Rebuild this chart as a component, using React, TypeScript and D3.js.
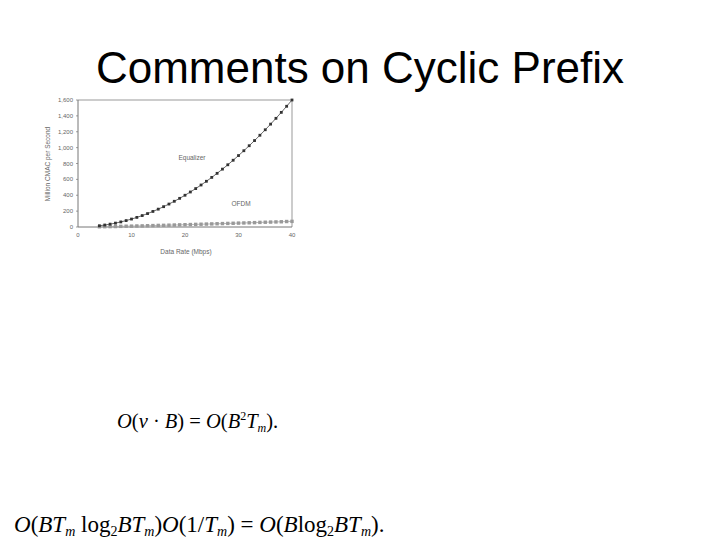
import React from "react";
import * as d3 from "d3";

const rates = [4,5,6,7,8,9,10,11,12,13,14,15,16,17,18,19,20,21,22,23,24,25,26,27,28,29,30,31,32,33,34,35,36,37,38,39,40];
const equalizer = [16,25,36,49,64,81,100,121,144,169,196,225,256,289,324,361,400,441,484,529,576,625,676,729,784,841,900,961,1024,1089,1156,1225,1296,1369,1444,1521,1600];
const ofdm = [3,4,5,6,8,10,11,13,14,16,18,20,21,23,25,27,29,31,33,35,37,39,41,43,45,47,49,51,53,55,58,60,62,64,66,69,71];
const yTicks = [0,200,400,600,800,1000,1200,1400,1600];
const xTicks = [0,10,20,30,40];

export default function App() {
  const x = d3.scaleLinear().domain([0, 40]).range([78, 292]);
  const y = d3.scaleLinear().domain([0, 1600]).range([227, 100]);
  const fmt = d3.format(",");
  const eqPts = rates.map((r, i) => [x(r), y(equalizer[i])] as [number, number]);
  const ofPts = rates.map((r, i) => [x(r), y(ofdm[i])] as [number, number]);
  const line = d3.line();
  const small = { fontFamily: "Liberation Sans, Arial, sans-serif", fontSize: 6, fill: "#666" };
  const serif = "Liberation Serif, Times New Roman, serif";
  return (
    <svg width={720} height={540} style={{ position: "absolute", left: 0, top: 0, background: "#fff" }}>
      <rect x={0} y={0} width={720} height={540} fill="#fff" />
      <text x={360} y={83} textAnchor="middle" fontFamily="Liberation Sans, Arial, sans-serif" fontSize={44} fill="#000">Comments on Cyclic Prefix</text>

      {/* plot frame */}
      <path d={`M${x(0)},${y(1600)}H${x(40)}V${y(0)}`} fill="none" stroke="#999" strokeWidth={1} />
      <line x1={x(0)} x2={x(0)} y1={y(0)} y2={y(1600)} stroke="#777" strokeWidth={1} />
      <line x1={x(0)} x2={x(40)} y1={y(0)} y2={y(0)} stroke="#777" strokeWidth={1} />
      {yTicks.map(t => (
        <g key={"y" + t}>
          <line x1={x(0) - 2} x2={x(0)} y1={y(t)} y2={y(t)} stroke="#777" strokeWidth={0.7} />
          <text x={73} y={y(t) + 2} textAnchor="end" {...small}>{fmt(t)}</text>
        </g>
      ))}
      {xTicks.map(t => (
        <text key={"x" + t} x={x(t)} y={237} textAnchor="middle" {...small}>{t}</text>
      ))}
      <text x={186} y={254} textAnchor="middle" {...small} fontSize={6.5}>Data Rate (Mbps)</text>
      <text transform={`translate(50,164) rotate(-90)`} textAnchor="middle" {...small} fontSize={6.5}>Million CMAC per Second</text>

      {/* series */}
      <path d={line(ofPts) || ""} fill="none" stroke="#aaa" strokeWidth={0.8} />
      {ofPts.map((p, i) => (
        <rect key={"o" + i} x={p[0] - 1.7} y={p[1] - 1.7} width={3.4} height={3.4} fill="#999" />
      ))}
      <path d={line(eqPts) || ""} fill="none" stroke="#444" strokeWidth={0.8} />
      {eqPts.map((p, i) => (
        <rect key={"e" + i} x={p[0] - 1.4} y={p[1] - 1.4} width={2.8} height={2.8} fill="#333" />
      ))}
      <text x={192} y={160} textAnchor="middle" {...small} fontSize={6.5}>Equalizer</text>
      <text x={241} y={206} textAnchor="middle" {...small} fontSize={6.5}>OFDM</text>

      {/* formula 1 */}
      <text x={117} y={428} fontFamily={serif} fontSize={20.5} fontStyle="italic" fill="#000">
        <tspan>O</tspan><tspan fontStyle="normal">(</tspan><tspan>v</tspan><tspan fontStyle="normal"> · </tspan><tspan>B</tspan><tspan fontStyle="normal">) = </tspan><tspan>O</tspan><tspan fontStyle="normal">(</tspan><tspan>B</tspan><tspan fontSize={12} dy={-8} fontStyle="normal">2</tspan><tspan dy={8}>T</tspan><tspan fontSize={12} dy={4}>m</tspan><tspan dy={-4} fontStyle="normal">).</tspan>
      </text>

      {/* formula 2 */}
      <text x={14} y={532} fontFamily={serif} fontSize={23} fontStyle="italic" fill="#000">
        <tspan>O</tspan><tspan fontStyle="normal">(</tspan><tspan>BT</tspan><tspan fontSize={14} dy={4}>m</tspan><tspan dy={-4} fontStyle="normal"> log</tspan><tspan fontSize={14} dy={4} fontStyle="normal">2</tspan><tspan dy={-4}>BT</tspan><tspan fontSize={14} dy={4}>m</tspan><tspan dy={-4} fontStyle="normal">)</tspan><tspan>O</tspan><tspan fontStyle="normal">(1/</tspan><tspan>T</tspan><tspan fontSize={14} dy={4}>m</tspan><tspan dy={-4} fontStyle="normal">) = </tspan><tspan>O</tspan><tspan fontStyle="normal">(</tspan><tspan>B</tspan><tspan fontStyle="normal">log</tspan><tspan fontSize={14} dy={4} fontStyle="normal">2</tspan><tspan dy={-4}>BT</tspan><tspan fontSize={14} dy={4}>m</tspan><tspan dy={-4} fontStyle="normal">).</tspan>
      </text>
    </svg>
  );
}
